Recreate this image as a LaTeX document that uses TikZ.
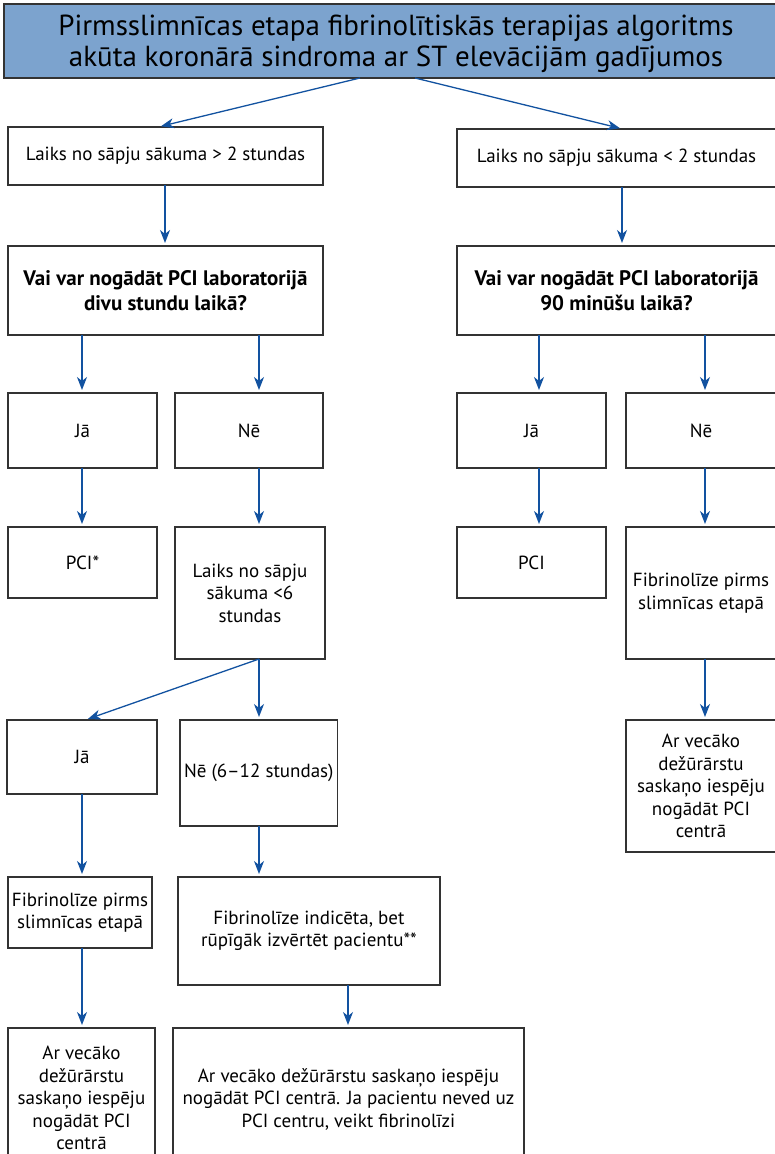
\documentclass[tikz,border=0pt]{standalone}
\usepackage{fontspec}
\setmainfont{PT Sans}
\usetikzlibrary{arrows.meta, positioning}
\definecolor{titleblue}{RGB}{124,163,206}
\definecolor{arrowblue}{RGB}{18,82,160}
\definecolor{boxgray}{RGB}{51,51,51}

\begin{document}
\begin{tikzpicture}[
      x=1pt, y=-1pt,
      node distance=0pt,
      every node/.style={font=\fontsize{19}{22.5}\selectfont},
      box/.style={
        rectangle, draw=boxgray, line width=1.3pt, outer sep=0pt,
        align=center, inner sep=4pt, anchor=north west
      },
      title/.style={
        box, fill=titleblue,
        font=\fontsize{29}{31}\selectfont
      },
      quest/.style={box, font=\fontsize{21}{25}\selectfont\bfseries},
      arr/.style={-{Stealth[length=13pt, width=10pt, inset=4pt]}, line width=1.3pt,
        color=arrowblue, shorten >=3pt}
    ]
      \useasboundingbox (0,0) rectangle (774,1154);
      \node[title, minimum width=784pt, minimum height=74pt] (head) at (4,4) {
        \rule{0pt}{27pt}Pirmsslimnīcas etapa fibrinolītiskās terapijas algoritms\\
        akūta koronārā sindroma ar ST elevācijām gadījumos
      };
      % two time windows
      \node[box, minimum width=315pt, minimum height=58pt] (left2) at (8,127) {Laiks no sāpju sākuma > 2 stundas};
      \node[box, minimum width=319pt, minimum height=58pt] (right2) at (457,129) {Laiks no sāpju sākuma < 2 stundas};
      \node[quest, below=61pt of left2.south west, anchor=north west,
        minimum width=315pt, minimum height=89pt] (leftq) {
        Vai var nogādāt PCI laboratorijā\\divu stundu laikā?
      };
      \node[quest, below=59pt of right2.south west, anchor=north west,
        minimum width=319pt, minimum height=89pt] (rightq) {
        Vai var nogādāt PCI laboratorijā\\90 minūšu laikā?
      };
      % answers
      \node[box, below=58pt of leftq.south west, anchor=north west, minimum width=149pt, minimum height=75pt] (lyes) {Jā};
      \node[box, right=18pt of lyes.north east, anchor=north west, minimum width=148pt, minimum height=75pt] (lno) {Nē};
      \node[box, below=58pt of rightq.south west, anchor=north west, minimum width=149pt, minimum height=75pt] (ryes) {Jā};
      \node[box, right=20pt of ryes.north east, anchor=north west, minimum width=150pt, minimum height=75pt] (rno) {Nē};
      \node[box, below=59pt of lyes.south west, anchor=north west, minimum width=149pt, minimum height=71pt] (lpci) {PCI*};
      \node[box, below=59pt of lno.south west, anchor=north west, minimum width=150pt, minimum height=132pt] (ltime) {
        Laiks no sāpju\\sākuma <6\\stundas
      };
      \node[box, below=59pt of ryes.south west, anchor=north west, minimum width=149pt, minimum height=71pt] (rpci) {PCI};
      \node[box, below=59pt of rno.south west, anchor=north west, minimum width=150pt, minimum height=132pt] (rfib) {
        Fibrinolīze pirms\\slimnīcas etapā
      };
      % under six hours or not
      \node[box, minimum width=150pt, minimum height=74pt] (tyes) at (7,720) {Jā};
      \node[box, below=61pt of ltime.south west, anchor=north west, xshift=5pt,
        minimum width=150pt, minimum height=106pt] (tno) {Nē (6–12 stundas)};
      \node[box, below=61pt of rfib.south west, anchor=north west, minimum width=150pt, minimum height=132pt] (rcall) {
        Ar vecāko\\dežūrārstu\\saskaņo iespēju\\nogādāt PCI\\centrā
      };
      \node[box, below=83pt of tyes.south west, anchor=north west, xshift=1pt,
        minimum width=140pt, minimum height=71pt] (tfib) {
        Fibrinolīze pirms\\slimnīcas etapā
      };
      \node[box, below=51pt of tno.south west, anchor=north west, xshift=-2pt,
        minimum width=262pt, minimum height=108pt] (tcheck) {
        Fibrinolīze indicēta, bet\\rūpīgāk izvērtēt pacientu**
      };
      \node[box, below=80pt of tfib.south west, anchor=north west, minimum width=147pt, minimum height=140pt] (tcall) {
        Ar vecāko\\dežūrārstu\\saskaņo iespēju\\nogādāt PCI\\centrā
      };
      \node[box, below=43pt of tcheck.south west, anchor=north west, xshift=-5pt,
        minimum width=351pt, minimum height=142pt] (tmix) {
        Ar vecāko dežūrārstu saskaņo iespēju\\
        nogādāt PCI centrā. Ja pacientu neved uz\\
        PCI centru, veikt fibrinolīzi
      };
      % connectors
      \draw[arr] (head.south -| 360,0) -- (left2.north -| 158,0);
      \draw[arr] (head.south -| 415,0) -- (right2.north -| 623,0);
      \draw[arr] (left2.south -| 165,0) -- (leftq.north -| 165,0);
      \draw[arr] (right2.south -| 622,0) -- (rightq.north -| 622,0);
      \draw[arr] (leftq.south -| 82,0) -- (lyes.north -| 82,0);
      \draw[arr] (leftq.south -| 259,0) -- (lno.north -| 259,0);
      \draw[arr] (rightq.south -| 539,0) -- (ryes.north -| 539,0);
      \draw[arr] (rightq.south -| 705,0) -- (rno.north -| 705,0);
      \draw[arr] (lyes.south -| 82,0) -- (lpci.north -| 82,0);
      \draw[arr] (lno.south -| 259,0) -- (ltime.north -| 259,0);
      \draw[arr] (ryes.south -| 539,0) -- (rpci.north -| 539,0);
      \draw[arr] (rno.south -| 705,0) -- (rfib.north -| 705,0);
      \draw[arr] (ltime.south -| 259,0) -- (tyes.north -| 85,0);
      \draw[arr] (ltime.south -| 259,0) -- (tno.north -| 259,0);
      \draw[arr] (rfib.south -| 705,0) -- (rcall.north -| 705,0);
      \draw[arr] (tyes.south -| 82,0) -- (tfib.north -| 82,0);
      \draw[arr] (tno.south -| 259,0) -- (tcheck.north -| 259,0);
      \draw[arr] (tfib.south -| 82,0) -- (tcall.north -| 82,0);
      \draw[arr] (tcheck.south -| 348,0) -- (tmix.north -| 348,0);
    \end{tikzpicture}
\end{document}
